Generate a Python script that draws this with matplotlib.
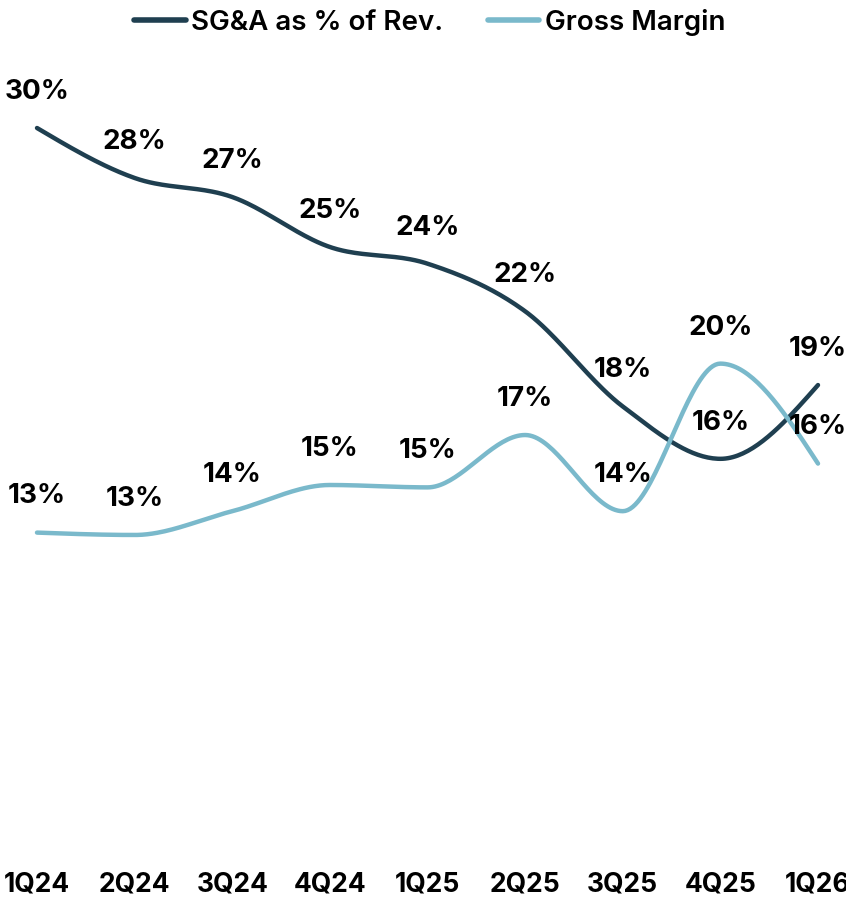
import matplotlib
matplotlib.use("Agg")
import matplotlib.pyplot as plt
import numpy as np

quarters = ["1Q24", "2Q24", "3Q24", "4Q24", "1Q25", "2Q25", "3Q25", "4Q25", "1Q26"]
sga_pct = [30.0, 27.9, 27.1, 25.0, 24.3, 22.3, 18.3, 16.1, 19.2]
gross_margin = [13.0, 12.9, 13.9, 15.0, 14.9, 17.1, 13.9, 20.1, 15.9]
sga_labels = ["30%", "28%", "27%", "25%", "24%", "22%", "18%", "16%", "19%"]
gm_labels = ["13%", "13%", "14%", "15%", "15%", "17%", "14%", "20%", "16%"]

dark = "#1f3f50"
light = "#7ab9cb"

plt.rcParams["font.family"] = ["Inter", "DejaVu Sans"]


def monotone(x, y, n=40):
    # monotone cubic (same idea as d3 curveMonotoneX)
    x = np.asarray(x, float)
    y = np.asarray(y, float)
    h = np.diff(x)
    s = np.diff(y) / h
    t = np.zeros_like(y)
    for i in range(1, len(y) - 1):
        p = (s[i - 1] * h[i] + s[i] * h[i - 1]) / (h[i - 1] + h[i])
        t[i] = (np.sign(s[i - 1]) + np.sign(s[i])) * min(abs(s[i - 1]), abs(s[i]), 0.5 * abs(p))
    t[0] = (3 * s[0] - t[1]) / 2
    t[-1] = (3 * s[-1] - t[-2]) / 2
    xs, ys = [], []
    for i in range(len(h)):
        u = np.linspace(0, 1, n)
        h00 = 2 * u**3 - 3 * u**2 + 1
        h10 = u**3 - 2 * u**2 + u
        h01 = -2 * u**3 + 3 * u**2
        h11 = u**3 - u**2
        xs.append(x[i] + u * h[i])
        ys.append(h00 * y[i] + h10 * h[i] * t[i] + h01 * y[i + 1] + h11 * h[i] * t[i + 1])
    return np.concatenate(xs), np.concatenate(ys)


fig = plt.figure(figsize=(8.46, 8.97), dpi=100)
W, H = 846, 897
ax = fig.add_axes([0, (H - 842) / H, 1, 842 / H])
ax.set_ylim(0, 842 / 23.8)
step = (818 - 37) / 8
ax.set_xlim(-37 / step, 8 + (W - 818) / step)

x = np.arange(len(quarters))
for vals, col, name in [(sga_pct, dark, "SG&A as % of Rev."), (gross_margin, light, "Gross Margin")]:
    xs, ys = monotone(x, vals)
    ax.plot(xs, ys, color=col, lw=3.2, solid_capstyle="round", label=name)

for vals, labs in [(sga_pct, sga_labels), (gross_margin, gm_labels)]:
    for i, (v, lab) in enumerate(zip(vals, labs)):
        ax.annotate(lab, (i, v), xytext=(0, 26), textcoords="offset points",
                    ha="center", va="center", fontsize=20, fontweight="bold", color="black")

ax.set_xticks(x)
ax.set_xticklabels(quarters, fontsize=19, fontweight="bold")
ax.tick_params(axis="x", length=0, pad=21)
ax.set_yticks([])
for sp in ax.spines.values():
    sp.set_visible(False)

leg = fig.legend(loc="upper center", bbox_to_anchor=(0.508, 1.018), ncol=2, frameon=False,
                 prop={"size": 20, "weight": "semibold"}, handlelength=1.85, handletextpad=0.2,
                 columnspacing=1.6)
for ln in leg.get_lines():
    ln.set_linewidth(4)

fig.savefig("out.png", dpi=100)
